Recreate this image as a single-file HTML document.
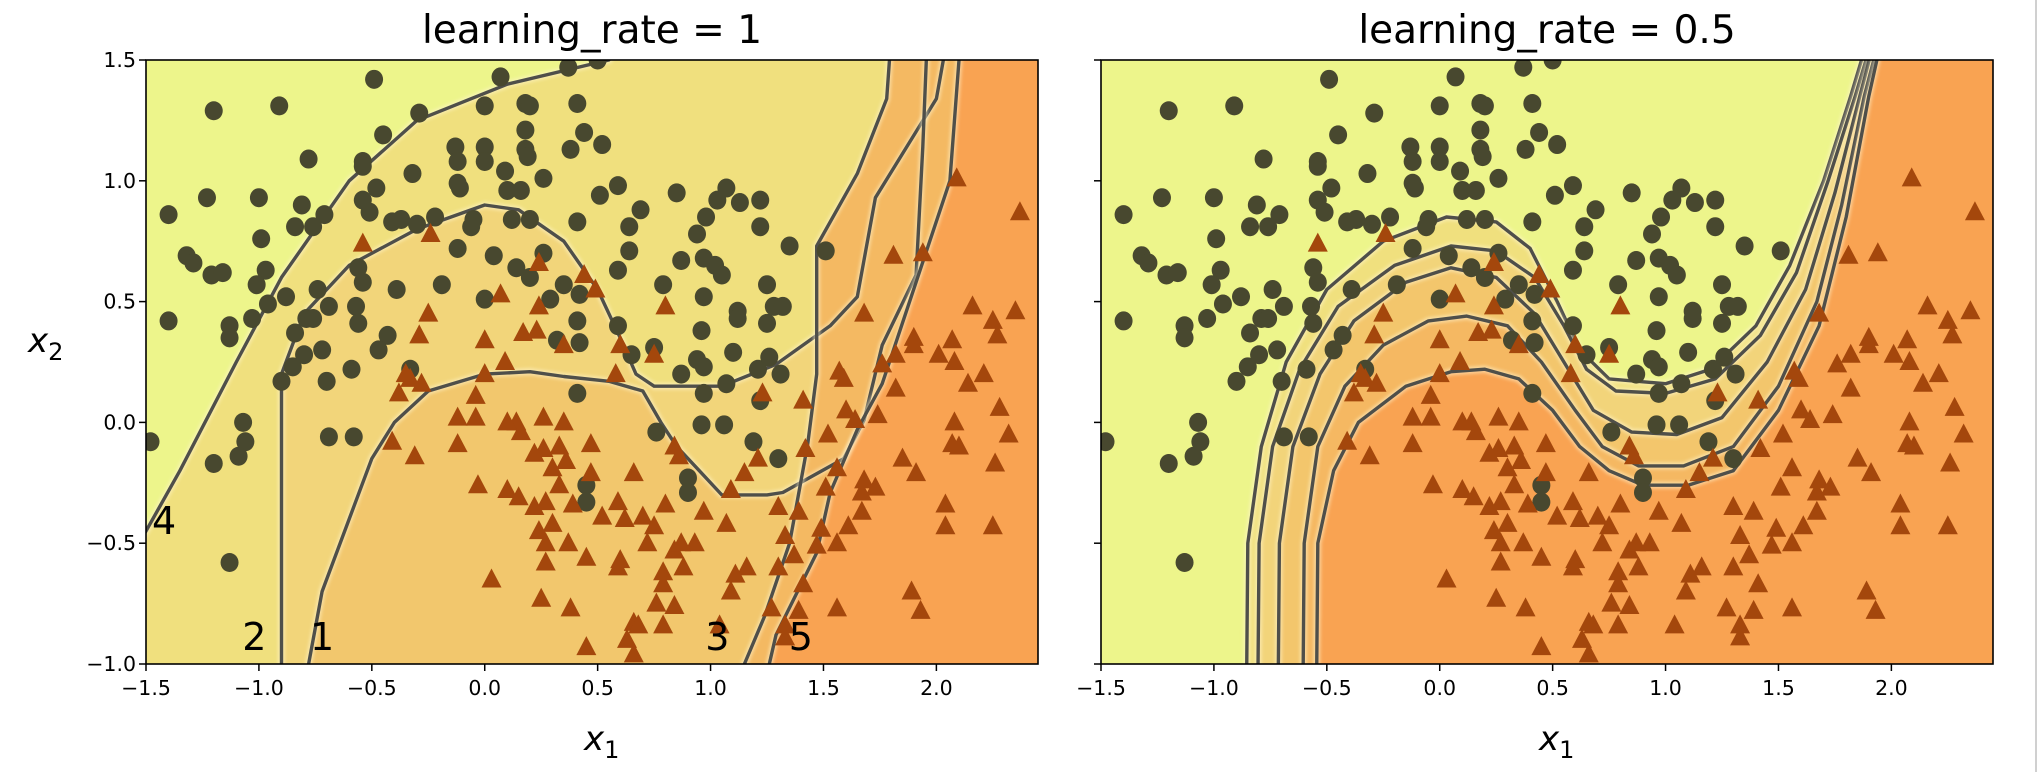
<!DOCTYPE html>
<html><head><meta charset="utf-8"><style>
html,body{margin:0;padding:0;background:#fff;}
svg{display:block;font-family:"DejaVu Sans","Liberation Sans",sans-serif;}
</style></head><body>
<svg id="fig" width="2040" height="772" viewBox="0 0 2040 772" xmlns="http://www.w3.org/2000/svg">
<defs>
<clipPath id="clipL"><rect x="146" y="60" width="892" height="604"/></clipPath>
<clipPath id="clipR"><rect x="1101" y="60" width="892" height="604"/></clipPath>
<filter id="blur" x="-10%" y="-10%" width="120%" height="120%"><feGaussianBlur stdDeviation="1.6"/></filter>
</defs>
<rect x="0" y="0" width="2040" height="772" fill="#fff"/>
<line x1="2036" y1="0" x2="2036" y2="772" stroke="#d0d0d0" stroke-width="2"/>
<g id="panelL"></g>
<g id="panelR"></g>
</svg>
<script>
// ---- data (moons training set) ----
const circlesX=[-0.49,0.07,0.37,0.5,-1.2,-0.91,-0.29,0.0,0.18,0.2,0.41,-0.45,0.18,0.44,-0.78,-0.13,0.0,0.18,0.38,0.52,-0.54,-0.54,-0.12,0.0,0.19,-0.32,0.09,-0.12,0.26,-0.48,-0.11,0.1,0.16,0.59,0.51,0.85,1.07,1.03,1.13,1.22,-1.4,-1.23,-1.0,-0.81,-0.71,-0.84,-0.76,-0.54,-0.51,-0.41,-0.37,-0.3,-0.22,-0.05,-0.06,0.12,0.2,0.41,0.69,0.64,0.98,1.22,-0.99,0.94,1.35,1.51,-0.12,0.04,0.26,0.64,0.87,0.97,1.02,1.05,-1.32,-1.29,-1.21,-1.16,-0.97,-1.01,-0.56,-0.54,-0.39,-0.19,0.14,0.2,0.35,0.42,0.59,0.79,0.97,1.25,1.28,1.32,1.12,1.12,1.25,-1.4,-1.03,-0.96,-0.88,-0.74,-0.69,-0.57,-0.56,-0.84,-0.79,-0.76,-1.13,-1.13,0.0,0.29,0.41,0.42,0.32,0.59,0.65,0.75,0.96,1.1,0.94,0.97,1.21,1.26,1.31,0.87,-0.43,-0.47,-0.72,-0.8,-0.85,-0.9,-0.7,-0.33,-0.59,0.97,1.07,1.22,0.41,-1.07,-1.06,-1.09,-1.2,-1.48,-0.69,-0.58,0.96,1.06,1.19,1.3,0.76,0.9,0.9,0.45,0.45,-1.13];
const circlesY=[1.42,1.43,1.47,1.5,1.29,1.31,1.28,1.31,1.32,1.31,1.32,1.19,1.21,1.2,1.09,1.14,1.14,1.13,1.13,1.15,1.08,1.06,1.08,1.08,1.1,1.03,1.04,0.99,1.01,0.97,0.97,0.96,0.96,0.98,0.94,0.95,0.97,0.92,0.91,0.92,0.86,0.93,0.93,0.9,0.86,0.81,0.81,0.92,0.87,0.83,0.84,0.82,0.85,0.84,0.81,0.84,0.84,0.83,0.88,0.81,0.85,0.81,0.76,0.78,0.73,0.71,0.72,0.69,0.7,0.71,0.67,0.68,0.65,0.61,0.69,0.66,0.61,0.62,0.63,0.57,0.64,0.58,0.55,0.57,0.64,0.6,0.57,0.53,0.63,0.57,0.52,0.57,0.48,0.48,0.46,0.43,0.41,0.42,0.43,0.49,0.52,0.55,0.48,0.48,0.41,0.37,0.43,0.43,0.4,0.35,0.51,0.51,0.42,0.33,0.34,0.4,0.28,0.31,0.38,0.29,0.26,0.23,0.22,0.27,0.2,0.2,0.36,0.3,0.3,0.28,0.23,0.17,0.17,0.22,0.22,0.12,0.16,0.09,0.12,0.0,-0.08,-0.14,-0.17,-0.08,-0.06,-0.06,-0.01,-0.01,-0.08,-0.15,-0.04,-0.23,-0.29,-0.26,-0.33,-0.58];
const trianglesX=[2.09,2.37,1.81,1.94,-0.24,-0.54,0.24,0.44,0.49,0.07,0.8,1.68,2.16,2.35,-0.25,-0.29,0.0,0.24,0.17,0.23,0.35,0.6,0.75,0.09,0.0,-0.35,-0.33,-0.38,-0.28,-0.04,0.58,1.23,1.41,1.57,1.59,2.07,2.08,1.9,1.9,1.82,1.76,1.82,2.01,2.21,2.14,2.25,2.27,2.28,2.08,2.1,2.32,2.26,2.07,1.85,1.91,1.6,1.64,1.74,1.52,1.42,1.56,1.68,1.67,1.73,1.51,1.67,1.61,1.49,1.56,1.47,2.04,2.04,2.25,1.89,1.93,1.56,1.41,1.37,1.33,1.3,1.39,1.21,1.15,1.09,1.07,0.97,1.11,1.16,1.09,1.3,1.27,1.33,1.39,1.33,1.04,0.66,0.84,0.86,0.8,0.93,0.88,0.84,0.79,0.79,0.76,0.84,0.79,0.66,0.66,0.63,0.45,0.38,0.25,0.03,0.27,0.45,0.6,0.59,0.37,0.27,0.24,0.3,0.22,0.27,0.33,0.3,0.36,0.22,0.26,0.33,0.47,0.47,0.39,0.52,0.62,0.7,0.75,0.72,0.87,0.59,0.15,0.1,-0.03,0.14,0.1,0.16,0.26,0.35,-0.12,-0.04,-0.12,-0.31,-0.41,0.68];
const trianglesY=[1.01,0.87,0.69,0.7,0.78,0.74,0.66,0.61,0.55,0.53,0.48,0.45,0.48,0.46,0.45,0.36,0.34,0.48,0.37,0.38,0.32,0.32,0.28,0.25,0.2,0.2,0.18,0.12,0.16,0.11,0.2,0.12,0.09,0.21,0.18,0.34,0.25,0.35,0.32,0.28,0.24,0.14,0.28,0.2,0.16,0.42,0.36,0.06,0.0,-0.1,-0.05,-0.17,-0.09,-0.15,-0.21,0.05,0.01,0.03,-0.05,-0.11,-0.19,-0.24,-0.29,-0.27,-0.27,-0.37,-0.43,-0.44,-0.5,-0.51,-0.34,-0.43,-0.43,-0.7,-0.78,-0.77,-0.67,-0.55,-0.47,-0.35,-0.37,-0.15,-0.21,-0.28,-0.42,-0.37,-0.63,-0.6,-0.7,-0.6,-0.77,-0.84,-0.78,-0.89,-0.84,-0.21,-0.1,-0.14,-0.34,-0.5,-0.6,-0.53,-0.62,-0.67,-0.75,-0.76,-0.84,-0.83,-0.96,-0.9,-0.93,-0.77,-0.73,-0.65,-0.58,-0.56,-0.57,-0.6,-0.5,-0.5,-0.45,-0.42,-0.35,-0.33,-0.26,-0.19,-0.16,-0.13,-0.11,-0.1,-0.21,-0.09,-0.34,-0.39,-0.4,-0.39,-0.43,-0.5,-0.5,-0.33,-0.31,-0.28,-0.26,0.0,0.0,-0.04,0.02,0.0,0.02,0.02,-0.09,-0.14,-0.08,-0.84];
const xTicks=[-1.5,-1.0,-0.5,0.0,0.5,1.0,1.5,2.0];
const yTicks=[-1.0,-0.5,0.0,0.5,1.0,1.5];
const xTickLabels=["\u22121.5","\u22121.0","\u22120.5","0.0","0.5","1.0","1.5","2.0"];
const yTickLabels=["\u22121.0","\u22120.5","0.0","0.5","1.0","1.5"];
const titles=["learning_rate = 1","learning_rate = 0.5"];
// contour lines, left panel (learning_rate = 1)
const cont4=[[-1.6,-0.6],[-1.5,-0.45],[-1.35,-0.2],[-1.1,0.25],[-0.9,0.6],[-0.6,1.0],[-0.3,1.25],[0.1,1.4],[0.55,1.5],[0.62,1.6]];
const cont2=[[-0.9,-1.6],[-0.9,0.2],[-0.8,0.45],[-0.6,0.65],[-0.3,0.8],[0.0,0.9],[0.15,0.88],[0.35,0.75],[0.5,0.55],[0.6,0.35],[0.67,0.2],[0.75,0.15],[1.05,0.15],[1.29,0.24],[1.53,0.4],[1.65,0.52],[1.73,0.93],[2.0,1.34],[2.05,1.6]];
const cont1=[[-0.78,-1.6],[-0.78,-1.0],[-0.72,-0.7],[-0.6,-0.4],[-0.5,-0.15],[-0.4,0.0],[-0.25,0.13],[0.0,0.2],[0.2,0.21],[0.35,0.19],[0.55,0.17],[0.7,0.13],[0.78,0.0],[0.85,-0.1],[0.95,-0.2],[1.05,-0.3],[1.25,-0.3],[1.32,-0.29],[1.59,-0.15],[1.68,0.01],[1.76,0.32],[1.91,0.61],[1.94,1.14],[1.96,1.6]];
const cont3=[[1.15,-1.6],[1.15,-1.0],[1.24,-0.8],[1.35,-0.5],[1.43,-0.09],[1.47,0.2],[1.47,0.73],[1.65,1.03],[1.78,1.34],[1.8,1.6]];
const cont5=[[1.26,-1.6],[1.26,-1.0],[1.29,-0.88],[1.47,-0.54],[1.53,-0.29],[1.65,-0.03],[1.76,0.16],[2.06,1.0],[2.1,1.5],[2.12,1.6]];
// contour lines, right panel (learning_rate = 0.5)
const rc1=[[-0.86,-1.6],[-0.85,-0.5],[-0.79,-0.1],[-0.68,0.25],[-0.5,0.55],[-0.25,0.75],[0.03,0.85],[0.25,0.83],[0.4,0.72],[0.52,0.5],[0.62,0.3],[0.75,0.18],[1.0,0.16],[1.2,0.22],[1.4,0.4],[1.55,0.65],[1.7,1.0],[1.82,1.35],[1.9,1.6]];
const rc2=[[-0.81,-1.6],[-0.8,-0.5],[-0.74,-0.1],[-0.62,0.22],[-0.45,0.48],[-0.2,0.65],[0.05,0.73],[0.25,0.71],[0.42,0.6],[0.55,0.4],[0.65,0.22],[0.78,0.13],[1.0,0.12],[1.22,0.18],[1.42,0.36],[1.58,0.62],[1.72,1.0],[1.84,1.35],[1.92,1.6]];
const rc3=[[-0.72,-1.6],[-0.71,-0.5],[-0.65,-0.1],[-0.53,0.2],[-0.38,0.42],[-0.15,0.58],[0.05,0.64],[0.25,0.6],[0.42,0.45],[0.55,0.25],[0.68,0.05],[0.85,-0.04],[1.05,-0.05],[1.25,0.02],[1.45,0.25],[1.62,0.55],[1.75,0.95],[1.86,1.35],[1.93,1.6]];
const rc4=[[-0.61,-1.6],[-0.6,-0.5],[-0.54,-0.1],[-0.42,0.15],[-0.25,0.32],[-0.05,0.42],[0.12,0.44],[0.3,0.4],[0.45,0.25],[0.6,0.05],[0.72,-0.1],[0.88,-0.18],[1.08,-0.18],[1.3,-0.1],[1.5,0.15],[1.67,0.5],[1.78,0.9],[1.88,1.35],[1.95,1.6]];
const rc5=[[-0.55,-1.6],[-0.54,-0.5],[-0.47,-0.2],[-0.36,0.0],[-0.15,0.15],[0.05,0.21],[0.2,0.22],[0.35,0.18],[0.5,0.05],[0.62,-0.1],[0.75,-0.2],[0.9,-0.26],[1.1,-0.26],[1.3,-0.2],[1.5,0.05],[1.68,0.4],[1.8,0.85],[1.9,1.35],[1.96,1.6]];
const contourLabels=[["4",-1.42,-0.45],["2",-1.02,-0.93],["1",-0.72,-0.93],["3",1.03,-0.93],["5",1.4,-0.93]];

const NS="http://www.w3.org/2000/svg";
const W=892,H=604,TOP=60;
function mk(tag,attrs,parent){const e=document.createElementNS(NS,tag);for(const k in attrs)e.setAttribute(k,attrs[k]);parent.appendChild(e);return e;}
function makeScales(left){return{sx:x=>left+(x+1.5)/3.95*W,sy:y=>TOP+(1.5-y)/2.5*H};}
function ptsStr(pts,s){return pts.map(p=>s.sx(p[0]).toFixed(1)+","+s.sy(p[1]).toFixed(1)).join(" ");}
function region(g,pts,s,color,name){
  const all=pts.concat([[3,1.6],[3,-1.6],[-1.6,-1.6]]);
  const e=mk("polygon",{points:ptsStr(all,s),fill:color},g);
  
  
}
function cline(g,pts,s,name){
  const h=mk("polyline",{points:ptsStr(pts,s),fill:"none",stroke:"#fff6d0","stroke-width":7,"stroke-opacity":0.55,filter:"url(#blur)"},g);
  
  
  const e=mk("polyline",{points:ptsStr(pts,s),fill:"none",stroke:"#4f4f4a","stroke-width":3.4,"stroke-linejoin":"round"},g);
  
  
}
function drawPanel(gid,left,clip,idx){
  const root=document.getElementById(gid);
  const s=makeScales(left);
  const g=mk("g",{"clip-path":"url(#"+clip+")"},root);
  
  
  const bg=mk("rect",{x:left,y:TOP,width:W,height:H,fill:"#edf58b"},g);
  
  
  if(idx===0){
    region(g,cont4,s,"#f0e07e","region-band-4");
    region(g,cont2,s,"#f2d57a","region-band-2");
    region(g,cont1,s,"#f2c76d","region-band-1");
    region(g,cont3,s,"#f4b962","region-band-3");
    region(g,cont5,s,"#f9a352","region-band-5");
  }else{
    region(g,rc1,s,"#f0e07e","region-band-a");
    region(g,rc2,s,"#f2d47a","region-band-b");
    region(g,rc3,s,"#f3c66c","region-band-c");
    region(g,rc4,s,"#f5b862","region-band-d");
    region(g,rc5,s,"#f9a352","region-band-e");
  }
  const lines=idx===0?[cont4,cont2,cont1,cont3,cont5]:[rc1,rc2,rc3,rc4,rc5];
  lines.forEach((l,i)=>cline(g,l,s,'contour-line-'+(i+1)));
  for(let i=0;i<circlesX.length;i++){
    const c=mk("ellipse",{cx:s.sx(circlesX[i]),cy:s.sy(circlesY[i]),rx:9,ry:9.5,fill:"#48482f"},g);
    
    
  }
  for(let i=0;i<trianglesX.length;i++){
    const x=s.sx(trianglesX[i]),y=s.sy(trianglesY[i]);
    const t=mk("polygon",{points:(x)+","+(y-11)+" "+(x-10)+","+(y+8)+" "+(x+10)+","+(y+8),fill:"#a4470c"},g);
    
    
  }
  if(idx===0){
    contourLabels.forEach(l=>{
      const t=mk("text",{x:s.sx(l[1]),y:s.sy(l[2])+3,"font-size":38,"text-anchor":"middle",fill:"#000"},root);
      t.textContent=l[0];
      
      
    });
  }
  const fr=mk("rect",{x:left,y:TOP,width:W,height:H,fill:"none",stroke:"#000","stroke-width":1.6},root);
  
  
  xTicks.forEach((v,i)=>{
    const x=s.sx(v);
    const tk=mk("line",{x1:x,y1:TOP+H,x2:x,y2:TOP+H+7,stroke:"#000","stroke-width":1.5},root);
    
    
    const t=mk("text",{x:x,y:TOP+H+31,"font-size":20.5,"text-anchor":"middle",fill:"#000"},root);
    t.textContent=xTickLabels[i];
    
    
  });
  yTicks.forEach((v,i)=>{
    const y=s.sy(v);
    const tk=mk("line",{x1:left-7,y1:y,x2:left,y2:y,stroke:"#000","stroke-width":1.5},root);
    
    
    if(idx===0){
      const t=mk("text",{x:left-10,y:y+7,"font-size":20.5,"text-anchor":"end",fill:"#000"},root);
      t.textContent=yTickLabels[i];
      
      
    }
  });
  const ti=mk("text",{x:left+W/2,y:43,"font-size":39,"text-anchor":"middle",fill:"#000"},root);
  ti.textContent=titles[idx];
  
  
  const xl=mk("text",{x:left+W/2-8,y:750,"font-size":34,"font-style":"italic",fill:"#000"},root);
  xl.innerHTML='x<tspan font-size="24" font-style="normal" dy="8">1</tspan>';
  
  
  if(idx===0){
    const yl=mk("text",{x:28,y:352,"font-size":34,"font-style":"italic",fill:"#000"},root);
    yl.innerHTML='x<tspan font-size="24" font-style="normal" dy="8">2</tspan>';
    
    
  }
}
drawPanel("panelL",146,"clipL",0);
drawPanel("panelR",1101,"clipR",1);
</script>
</body></html>
